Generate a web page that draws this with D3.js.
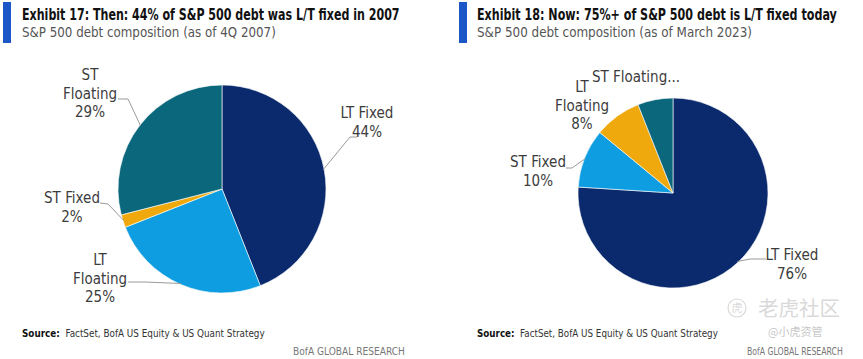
<!DOCTYPE html>
<html><head><meta charset="utf-8">
<script src="https://cdn.jsdelivr.net/npm/d3@7"></script>
<style>
html,body{margin:0;padding:0;background:#fff;}
svg{display:block;}
text{font-family:"Liberation Sans Narrow","DejaVu Sans Condensed",Lato,sans-serif;}
</style></head>
<body><svg id="c" width="863" height="359"></svg>
<script>
// ---- data ----
const categories2007 = ["LT Fixed", "LT Floating", "ST Fixed", "ST Floating"];
const values2007 = [44, 25, 2, 29];
const categories2023 = ["LT Fixed", "ST Fixed", "LT Floating", "ST Floating"];
const values2023 = [76, 10, 8, 6];
const title2007 = "Exhibit 17: Then: 44% of S&P 500 debt was L/T fixed in 2007";
const subtitle2007 = "S&P 500 debt composition (as of 4Q 2007)";
const title2023 = "Exhibit 18: Now: 75%+ of S&P 500 debt is L/T fixed today";
const subtitle2023 = "S&P 500 debt composition (as of March 2023)";
const sourceText = "FactSet, BofA US Equity & US Quant Strategy";
const brandText = "BofA GLOBAL RESEARCH";

// ---- styling / layout ----
// colours follow series order (same palette order in both exhibits)
const palette = ["#0b2a6d", "#0e9de0", "#f0a90c", "#0b687c"];

const panels = [
  {
    cats: categories2007, vals: values2007, title: title2007, subtitle: subtitle2007,
    barX: 3, textX: 22, titleW: 378, subW: 254, srcX: 22, srcW: 243, brandX: 293, brandW: 112,
    cx: 222, cy: 189, r: 104,
    labels: {
      "ST Floating": {x: 90, y: 80, lines: ["ST", "Floating", "29%"], lead: [[118, 99], [128, 99]]},
      "ST Fixed": {x: 72, y: 203, lines: ["ST Fixed", "2%"], lead: [[100, 203], [108, 204]]},
      "LT Floating": {x: 100, y: 265, lines: ["LT", "Floating", "25%"], lead: [[128, 282], [145, 282]]},
      "LT Fixed": {x: 367, y: 118, lines: ["LT Fixed", "44%"], lead: [[357, 137], [350, 137]]}
    }
  },
  {
    cats: categories2023, vals: values2023, title: title2023, subtitle: subtitle2023,
    barX: 459, textX: 477, titleW: 360, subW: 275, srcX: 477, srcW: 241, brandX: 747, brandW: 96,
    cx: 673, cy: 193, r: 95,
    labels: {
      "ST Floating": {x: 636, y: 82, lines: ["ST Floating..."], lead: null},
      "LT Floating": {x: 582, y: 92, lines: ["LT", "Floating", "8%"], lead: null},
      "ST Fixed": {x: 538, y: 167, lines: ["ST Fixed", "10%"], lead: [[566, 168], [572, 168]]},
      "LT Fixed": {x: 792, y: 260, lines: ["LT Fixed", "76%"], lead: [[766, 259], [750, 259]]}
    }
  }
];

const svg = d3.select("#c");

// squeeze a text horizontally to a target width, anchored at its x,y
function fit(sel, x, y, w) {
  sel.attr("x", 0).attr("y", 0);
  const nat = sel.node().getComputedTextLength();
  const k = nat > 0 ? w / nat : 1;
  sel.attr("transform", `translate(${x},${y}) scale(${k},1)`);
  return sel;
}

panels.forEach(p => {
  const g = svg.append("g");
  g.append("rect").attr("x", p.barX).attr("y", 2).attr("width", 8).attr("height", 41).attr("fill", "#1b57c6");
  fit(g.append("text").attr("font-size", 16).attr("font-weight", "bold").attr("fill", "#111").text(p.title),
    p.textX, 20, p.titleW);
  fit(g.append("text").attr("font-size", 14.5).attr("fill", "#555").text(p.subtitle),
    p.textX, 37, p.subW);

  const pie = d3.pie().sort(null).value(d => d.v);
  const data = p.cats.map((c, i) => ({c, v: p.vals[i], i}));
  const arcs = pie(data);
  const arc = d3.arc().innerRadius(0).outerRadius(p.r);
  const color = d3.scaleOrdinal().domain(d3.range(palette.length)).range(palette);
  const pg = g.append("g").attr("transform", `translate(${p.cx},${p.cy})`);
  pg.selectAll("path").data(arcs).join("path")
    .attr("d", arc).attr("fill", d => color(d.data.i))
    .attr("stroke", "#fff").attr("stroke-width", 0.6);

  arcs.forEach(a => {
    const L = p.labels[a.data.c];
    if (!L) return;
    const t = g.append("text").attr("text-anchor", "middle").attr("font-size", 15).attr("fill", "#3c3c3c");
    L.lines.forEach((ln, i) => {
      t.append("tspan").attr("x", L.x).attr("y", L.y + i * 18.7).text(ln);
    });
    if (L.lead) {
      const mid = (a.startAngle + a.endAngle) / 2;
      const ex = p.cx + (p.r - 1) * Math.sin(mid);
      const ey = p.cy - (p.r - 1) * Math.cos(mid);
      const pts = L.lead.concat([[ex, ey]]);
      g.append("path").attr("d", d3.line()(pts)).attr("fill", "none")
        .attr("stroke", "#9a9a9a").attr("stroke-width", 1);
    }
  });

  const s = g.append("text").attr("font-size", 10.5).attr("fill", "#333");
  s.append("tspan").attr("font-weight", "bold").attr("fill", "#111").text("Source:");
  s.append("tspan").text("\u00a0\u00a0" + sourceText);
  fit(s, p.srcX, 337, p.srcW);
  fit(g.append("text").attr("font-size", 10).attr("fill", "#777").text(brandText), p.brandX, 355, p.brandW);
});

// watermark
const wm = svg.append("g").attr("opacity", 0.55);
wm.append("circle").attr("cx", 737).attr("cy", 308).attr("r", 9).attr("fill", "none").attr("stroke", "#bbb").attr("stroke-width", 1.2);
wm.append("text").attr("x", 737).attr("y", 312).attr("text-anchor", "middle").attr("font-size", 11).attr("fill", "#bbb")
  .attr("style", "font-family:'Noto Sans CJK SC'").text("虎");
fit(wm.append("text").attr("font-size", 20).attr("fill", "#bbb").attr("style", "font-family:'Noto Sans CJK SC'").text("老虎社区"),
  758, 316, 82);
wm.append("text").attr("x", 768).attr("y", 336).attr("font-size", 11).attr("fill", "#999")
  .attr("style", "font-family:'Noto Sans CJK SC'").text("@小虎资管");
</script></body></html>
